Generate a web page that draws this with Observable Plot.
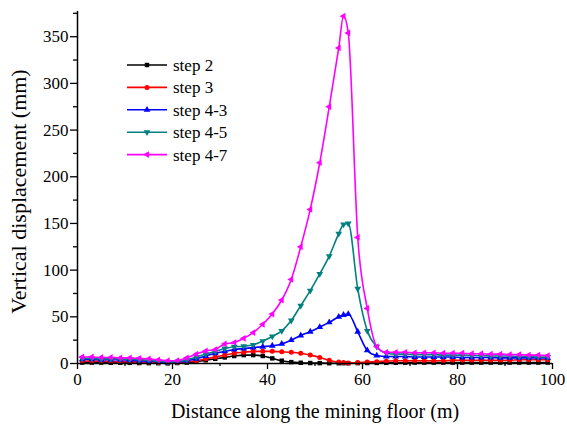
<!DOCTYPE html>
<html>
<head>
<meta charset="utf-8">
<script src="https://cdn.jsdelivr.net/npm/d3@7"></script>
<script src="https://cdn.jsdelivr.net/npm/@observablehq/plot@0.6"></script>
<style>
  html, body { margin: 0; padding: 0; background: #fff; }
  #chart svg { display: block; }
  #chart svg text { font-family: "Liberation Serif", "Times New Roman", serif; }
</style>
</head>
<body>
<div id="chart"></div>
<script>
// Distance along the mining floor (m)
const distance = [
  1, 3, 5, 7, 9, 11, 13, 15, 17, 19,
  21, 23, 25, 27, 29, 31, 33, 35, 37, 39, 41, 43, 45, 47, 49, 51, 53, 55,
  56, 57,
  59, 61, 63, 65, 67, 69, 71, 73, 75, 77, 79, 81, 83, 85, 87, 89, 91, 93, 95, 97, 99
];

// Vertical displacement (mm) for each excavation step
const step2 = [
  1, 1, 1, 0.8, 0.8, 0.7, 0.5, 0.4, 0.3, 0.2,
  0.5, 1, 2, 3.5, 5, 6.5, 8, 9, 9, 8, 5.5, 3, 1.5, 0.8, 0.5, 0.4, 0.3, 0.3,
  0.3, 0.3,
  0.4, 0.5, 0.6, 0.7, 0.8, 0.9, 1, 1, 1, 1, 1, 1, 1, 1, 1, 1, 1, 1, 1, 1, 1
];
const step3 = [
  2.5, 2.5, 2.5, 2, 2, 2, 1.5, 1.5, 1, 0.5,
  1, 2, 3, 5, 7, 9, 11, 12, 13, 13, 13, 12.5, 12, 11, 9, 6.5, 3.5, 1.5,
  1, 0.5,
  1, 1.5, 2, 2.5, 3, 3, 3, 3, 3, 3, 3.5, 3.5, 3.5, 3.5, 3.5, 3.5, 3.5, 4, 4, 4, 4
];
const step4_3 = [
  4.5, 4.5, 4, 4, 4, 3.5, 3, 2.5, 2, 1,
  1.5, 3, 5, 8, 11, 13, 15, 16, 17, 18, 19, 21, 25, 30, 34, 39, 44, 50,
  52, 53,
  34, 14, 8.5, 7.5, 7.5, 7.5, 7, 7, 7, 7, 7, 6.5, 6.5, 6.5, 6.5, 6, 6, 6, 6, 6, 6
];
const step4_5 = [
  5.5, 5.5, 5, 5, 5, 4.5, 4, 3.5, 2.5, 1.5,
  2, 4, 7, 10, 13, 16, 18, 18.5, 20, 24, 29, 35, 46, 62, 78, 96, 115, 139,
  149, 150,
  80, 35, 18, 11, 10, 10, 9.5, 9.5, 9.5, 9, 9, 9, 8.5, 8.5, 8, 8, 8, 7.5, 7.5, 7, 7
];
const step4_7 = [
  7, 7, 6.5, 6.5, 6, 6, 5.5, 5, 4, 3,
  3, 6, 10, 13.5, 15, 21, 22.5, 27, 33, 42, 53, 68, 90, 125, 165, 215, 275, 338,
  372, 354,
  135, 59, 18, 12, 12, 12, 11.5, 11.5, 11.5, 11, 11, 11, 10.5, 10.5, 10, 10, 9.5, 9.5, 9, 9, 8.5
];

const seriesNames = ["step 2", "step 3", "step 4-3", "step 4-5", "step 4-7"];
const seriesValues = [step2, step3, step4_3, step4_5, step4_7];
const seriesColors = ["#000000", "#ff0000", "#0000ff", "#008080", "#ff00ff"];
const seriesSymbols = ["square", "circle", "triangle", "triangle", "triangle"];
const seriesRotate = [0, 0, 0, 180, -90];

const xMajor = [0, 20, 40, 60, 80, 100];
const xMinor = [10, 30, 50, 70, 90];
const yMajor = [0, 50, 100, 150, 200, 250, 300, 350];
const yMinor = [25, 75, 125, 175, 225, 275, 325, 375];

const series = seriesNames.map((name, k) => ({
  name,
  color: seriesColors[k],
  symbol: seriesSymbols[k],
  rotate: seriesRotate[k],
  rows: distance.map((x, i) => ({x, y: seriesValues[k][i], name}))
}));

const font = "Liberation Serif, Times New Roman, serif";
const markR = 2.5;

const marks = [];
for (const s of series) {
  marks.push(Plot.line(s.rows, {x: "x", y: "y", stroke: s.color, strokeWidth: 1.6, curve: "monotone-x"}));
  marks.push(Plot.dot(s.rows, {x: "x", y: "y", fill: s.color, stroke: "none", symbol: s.symbol, r: markR, rotate: s.rotate}));
}

const chart = Plot.plot({
  width: 567,
  height: 426,
  marginLeft: 77,
  marginRight: 15,
  marginTop: 11,
  marginBottom: 63,
  style: {fontFamily: font, fontSize: "17px", color: "#000", background: "#fff"},
  x: {domain: [0, 100]},
  y: {domain: [0, 377]},
  marks: [
    ...marks,
    Plot.axisX({ticks: xMajor, tickSize: 6, tickPadding: 3, tickFormat: d => d, label: null, fontSize: 17, fontFamily: font, strokeWidth: 1.3}),
    Plot.axisX({ticks: xMinor, tickSize: 3, tickFormat: () => "", label: null, strokeWidth: 1.3}),
    Plot.axisY({ticks: yMajor, tickSize: 7, tickPadding: 2, tickFormat: d => d, label: null, fontSize: 17, fontFamily: font, strokeWidth: 1.3}),
    Plot.axisY({ticks: yMinor, tickSize: 4, tickFormat: () => "", label: null, strokeWidth: 1.3}),
    Plot.ruleX([0], {stroke: "#000", strokeWidth: 1.5}),
    Plot.ruleY([0], {stroke: "#000", strokeWidth: 1.5}),
    Plot.text(["Distance along the mining floor (m)"], {
      frameAnchor: "bottom", dy: 48, fontSize: 20, fontFamily: font, textAnchor: "middle", lineAnchor: "middle", fill: "#000"
    }),
    Plot.text(["Vertical displacement (mm)"], {
      frameAnchor: "left", dx: -59, dy: 4, rotate: -90, fontSize: 22, fontFamily: font, textAnchor: "middle", lineAnchor: "middle", fill: "#000"
    })
  ]
});

document.getElementById("chart").append(chart);

// Legend in the upper-left part of the plotting area
const svg = d3.select(chart);
const legend = svg.append("g").attr("font-family", font).attr("font-size", 17);
const symbolTypes = {square: d3.symbolSquare, circle: d3.symbolCircle, triangle: d3.symbolTriangle};
series.forEach((s, i) => {
  const y = 65 + i * 22.4;
  const g = legend.append("g").attr("transform", `translate(0,${y})`);
  g.append("line").attr("x1", 127).attr("x2", 167).attr("y1", 0).attr("y2", 0)
    .attr("stroke", s.color).attr("stroke-width", 1.6);
  g.append("path")
    .attr("d", d3.symbol(symbolTypes[s.symbol], markR * markR * Math.PI)())
    .attr("transform", `translate(147,0) rotate(${s.rotate})`)
    .attr("fill", s.color);
  g.append("text").attr("x", 173).attr("y", 0).attr("dy", "0.35em")
    .attr("text-anchor", "start").attr("fill", "#000").text(s.name);
});
</script>
</body>
</html>
